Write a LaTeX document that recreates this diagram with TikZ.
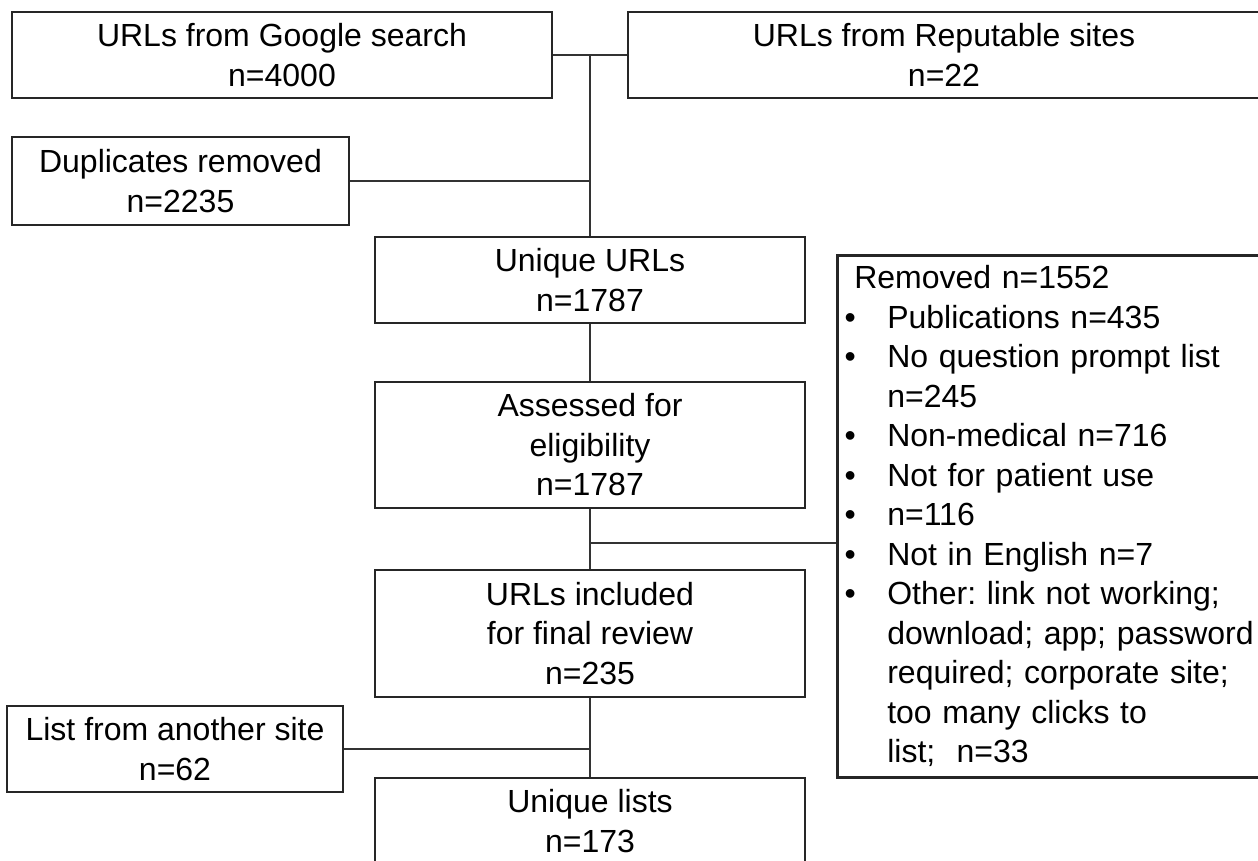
\documentclass[tikz,border=0pt]{standalone}
\usepackage{fontspec}
\setmainfont{Liberation Sans}
\frenchspacing
\newcommand{\itm}{\makebox[13pt][c]{\textbullet}\hspace{12pt}}

\begin{document}
\begin{tikzpicture}[
  x=0.5pt, y=-0.5pt,
  box/.style={draw=black!85, line width=1.3pt, inner sep=0pt, align=center,
    font=\fontsize{16}{19.75}\selectfont},
  lnk/.style={draw=black!80, line width=0.9pt},
]
\useasboundingbox (0,0) rectangle (1258,861);

\node [box, minimum width=270pt, minimum height=43pt] (google) at (282,55) {URLs from Google search\\n=4000};
\node [box, minimum width=316pt, minimum height=43pt] (reput) at (944,55) {URLs from Reputable sites\\n=22};
\node [box, minimum width=168.5pt, minimum height=44pt] (dup) at (180.5,181) {Duplicates removed\\n=2235};
\node [box, minimum width=215pt, minimum height=43pt] (uniq) at (590,280) {Unique URLs\\n=1787};
\node [box, minimum width=215pt, minimum height=63pt] (assess) at (590,445) {Assessed for\\eligibility\\n=1787};
\node [box, minimum width=215pt, minimum height=63.5pt] (urlinc) at (590,633.5) {URLs included\\for final review\\n=235};
\node [box, minimum width=168pt, minimum height=43pt] (list) at (175,749) {List from another site\\n=62};
\node [box, minimum width=215pt, minimum height=43pt] (uniqlists) at (590,821) {Unique lists\\n=173};
\node [box, anchor=north west, align=left, text width=212pt, minimum height=261pt, inner xsep=0pt] (removed) at (836,254) {%
\hspace*{8.5pt}Removed n=1552\\
\itm Publications n=435\\
\itm No question prompt list\\
\hspace*{25pt}n=245\\
\itm Non-medical n=716\\
\itm Not for patient use\\
\itm n=116\\
\itm Not in English n=7\\
\itm Other: link not working;\\
\hspace*{25pt}download; app; password\\
\hspace*{25pt}required; corporate site;\\
\hspace*{25pt}too many clicks to\\
\hspace*{25pt}list;~ n=33};

\coordinate (fork) at (590,543);

\draw [lnk] (google.east) -- (reput.west);
\draw [lnk] (google.east -| uniq.north) -- (uniq.north);
\draw [lnk] (dup.east) -- (dup.east -| uniq.north);
\draw [lnk] (uniq.south) -- (assess.north);
\draw [lnk] (assess.south) -- (urlinc.north);
\draw [lnk] (fork) -- (fork -| removed.west);
\draw [lnk] (urlinc.south) -- (uniqlists.north);
\draw [lnk] (list.east) -- (list.east -| uniqlists.north);

\end{tikzpicture}
\end{document}
